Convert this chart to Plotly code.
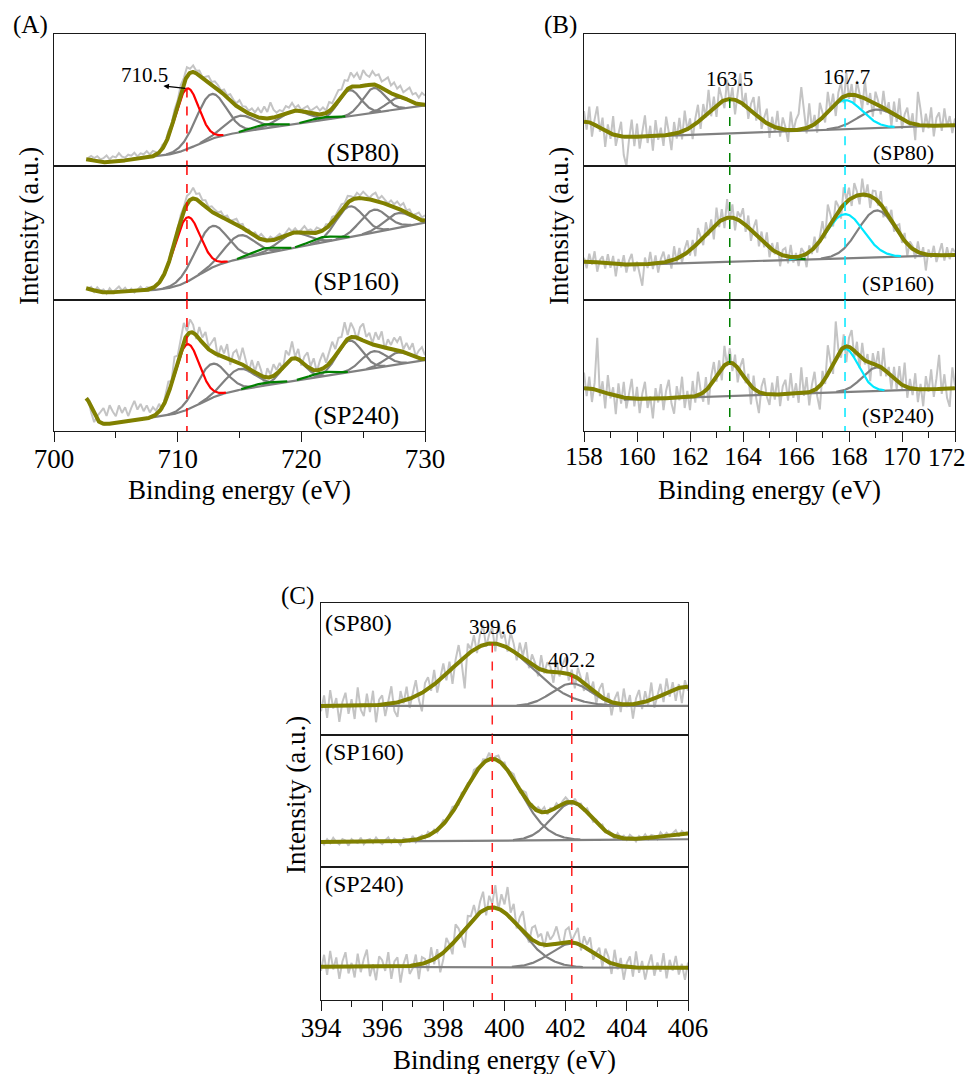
import numpy as np
import plotly.graph_objects as go

# ===================== DATA =====================
samples = ["SP80", "SP160", "SP240"]
sample_labels = ["(SP80)", "(SP160)", "(SP240)"]

# ---------- Panel A : Fe 2p ----------
A_range = [700, 730]
A_ticks = [700, 710, 720, 730]
A_energy_start, A_energy_step = 702.75, 0.25
A_fit_start, A_bg_start = 702.6, 704.0
A_centers = [710.75, 712.7, 715.0, 717.0, 719.35, 721.7, 723.9, 725.85, 727.8]
A_roles = ["main", "sat", "sat", "minor", "sat", "minor", "sat", "sat", "sat"]
A_amp_SP80 = [46, 34, 12.5, 3, 10, 2, 19.7, 18.7, 8.7]
A_sig_SP80 = [0.95, 1.2, 1.2, 1.0, 1.2, 1.0, 0.9, 0.9, 0.9]
A_amp_SP160 = [48, 31, 17.5, 4, 11, 4, 23, 17, 11]
A_sig_SP160 = [1.05, 1.3, 1.2, 1.0, 1.2, 1.0, 1.1, 1.1, 1.1]
A_amp_SP240 = [50, 26, 16, 2, 17, 3, 24, 13, 9]
A_sig_SP240 = [1.0, 1.2, 1.2, 1.0, 0.9, 1.0, 1.0, 1.0, 1.0]
# background: level@704, slope, step height, step centre, step width, extra slope after step
A_bg_SP80 = [2.5, 1.0, 11.0, 711.5, 0.9, 0.35]
A_bg_SP160 = [5.5, 0.4, 16.3, 711.5, 0.9, 1.38]
A_bg_SP240 = [5.0, 1.2, 12.6, 711.8, 0.9, 0.29]
# low-energy edge of the fit window: height, position, width
A_edge_SP80 = [4.0, 702.5, 0.7]
A_edge_SP160 = [4.0, 702.4, 0.7]
A_edge_SP240 = [22.0, 702.5, 0.55]
A_dev_SP80 = [1, 3, 2, 4, 2, 3, 5, 2, 4, 3, 6, 3, 2, 4, 3, 5, 2, 4, 3, 5, 2, 4,
              2, -1, 3, 1, 4, 2, 5, 3, 6, 4, 7, 3, 5, 2, 4, 1, 3, 5, 2, 4,
              3, 1, 4, 2, 5, 3, 2, 6, 3, 4, 2, 5, 3, 7, 4, 9, 5, 12, 6, 3,
              4, 2, 5, 3, 6, 2, 4, 1, 3, 5, 2, 4, 6, 3, 5, 2, 7, 4, 6, 8,
              5, 9, 6, 11, 7, 10, 5, 12, 8, 6, 10, 7, 9, 5, 8, 11, 6, 9, 5, 8, 4, 7, 10, 6, 8, 5, 9, 7]
A_dev_SP160 = [0, 2, -1, 3, 1, 2, -1, 3, 0, 2, 4, 1, 3, 0, 2, -1, 1, 3, 0, 2, 1, -1,
               1, 0, 2, -1, 1, 3, 0, 2, 4, 3, 6, 5, 8, 4, 6, 3, 5, 2, 4, 3,
               2, 4, 1, 3, 0, 2, 4, 1, 3, -1, 2, 0, 3, 1, 4, 2, 0, 3, 1, 2,
               3, 0, 2, 4, 1, 3, 0, 2, 5, 2, 3, 1, 4, 2, 0, 3, 1, 4, 2, 3,
               4, 2, 5, 3, 1, 4, 2, 5, 3, 1, 4, 6, 2, 5, 3, 1, 4, 2, 5, 3, 6, 2, 4, 1, 3, 5, 2, 4]
A_dev_SP240 = [2, -4, -6, 3, 8, 12, 6, 14, 9, 5, 13, 7, 11, 4, 10, 15, 8, 12, 6, 10, 4, 7,
               3, 6, -2, 5, 9, 2, 12, 4, 8, 14, 3, 10, 6, -3, 9, 4, 11, 2, 7, 12,
               -2, 8, 3, 11, -4, 6, 9, 2, 13, 5, -3, 8, 1, 10, 4, -5, 7, 2, 9, 3,
               6, -2, 10, 4, 13, 1, 8, -3, 6, 11, 2, 9, -1, 7, 12, 3, 8, 14, 5, 10,
               7, 15, 3, 11, 6, -2, 9, 13, 4, 8, 1, 10, 5, 12, -1, 7, 3, 9, 6, 11, 2, 8, 4, 10, 1, 6, 9, 3]
A_peak_label = "710.5"

# ---------- Panel B : S 2p ----------
B_range = [158, 172]
B_ticks = [158, 160, 162, 164, 166, 168, 170, 172]
B_energy_start, B_energy_step = 158.0, 0.1
B_fit_start, B_bg_start = 158.0, 159.5
B_centers = [163.5, 167.85, 169.05]
B_roles = ["sulfide", "sulfate", "sat"]
B_amp_SP80 = [26, 22, 14]
B_sig_SP80 = [0.85, 0.65, 0.7]
B_amp_SP160 = [33, 33, 35]
B_sig_SP160 = [0.95, 0.7, 0.7]
B_amp_SP240 = [25.5, 33, 18]
B_sig_SP240 = [0.5, 0.5, 0.55]
B_bg_SP80 = [20.6, 0.74]
B_bg_SP160 = [25.2, 0.6]
B_bg_SP240 = [22.8, 0.7]
B_edge_SP80 = [13.0, 158.0, 0.6]
B_edge_SP160 = [3.4, 158.0, 0.7]
B_edge_SP240 = [9.8, 158.0, 0.8]
B_dev_SP80 = [8, -6, 12, -10, 4, 15, -3, 9, -12, 6,
              -4, 14, -8, 2, 11, -14, -22, -2, 13, -7,
              10, -9, 3, 16, -5, 8, -11, 12, -3, 6,
              -8, 14, 2, -12, 9, -4, 11, -6, 15, -1,
              7, -10, 4, 13, -7, 10, -2, 17, -5, 8,
              -9, 12, 3, -6, 15, -3, 9, -11, 6, 22,
              -2, 10, -8, 5, 12, -4, 16, -7, 3, 11,
              -10, 7, -3, 13, -6, 9, 2, -9, 14, -1,
              8, 12, 32, 14, -4, 18, -2, 7, -8, 13,
              4, -6, 15, -1, 9, -10, 6, 12, -5, 17,
              -3, 8, -7, 11, 2, -9, 14, -4, 6, -11,
              9, 3, -6, 13, -2, 7, -10, 10, -4, 15,
              -7, 5, 11, -3, 8, -12, 25, 12, -5, 9,
              -2, 14, -8, 6, 10, -4, 13, -1, 7, -6,
              5]
B_dev_SP160 = [3, -5, 6, -2, 8, -7, 2, 5, -4, 7,
               -3, 6, -9, 4, -2, 7, -6, 3, 8, -5,
               2, -8, -16, 5, -3, 9, -4, 6, -7, 3,
               8, -2, 5, -6, 10, -3, 7, -5, 4, 9,
               -4, 6, -8, 11, 2, -6, 9, -3, 7, -10,
               12, -4, 8, -7, 14, -2, 10, -9, 6, 3,
               11, -5, 9, -8, 4, 12, -6, 7, -3, 10,
               -7, 5, -2, 8, -9, 4, 6, -5, 9, -4,
               3, -7, 6, 2, -10, 5, -3, 8, -6, 4,
               12, -4, 18, 7, -5, 11, 4, -8, 13, 2,
               9, -6, 10, 3, -7, 12, -2, 8, -9, 5,
               6, -3, 10, -7, 4, -2, 8, -5, 3, 7,
               -4, 6, -9, 4, 2, -6, 8, -3, 5, -12,
               4, -2, 7, -5, 3, 9, -4, 6, -3, 5,
               2]
B_dev_SP240 = [12, -6, 9, -10, 5, 40, -4, 8, -12, 14,
               -3, 6, -14, 10, -5, 12, -8, 3, 15, -6,
               9, -11, 4, 13, -7, 2, -15, 8, -3, 11,
               -9, 6, 14, -4, -12, 9, -2, 16, -8, 5,
               -10, 12, -5, 18, 3, -7, 10, -13, 6, 14,
               -4, 9, -9, 15, -2, 11, -6, 8, -11, 4,
               13, -3, 7, -14, 10, -6, -16, 5, 12, -2,
               -8, 9, -4, 14, -9, 6, 11, -5, 16, -3,
               8, -7, 20, -2, 12, -10, 5, 14, -6, -18,
               9, -4, 22, 6, -8, 28, 3, -6, 10, -12,
               7, 14, -5, 9, -9, 12, -3, 6, -14, 8,
               -2, 11, -7, 16, -4, 5, -10, 9, -6, 13,
               -3, 18, -8, 7, -5, 12, -10, 4, -13, 10,
               -2, 15, -6, 8, 26, -4, 11, -7, -14, 16,
               2]
B_peak_labels = ["163.5", "167.7"]
B_peak_label_x = [163.5, 167.9]
B_peak_label_y = [65.7, 67.2]

# ---------- Panel C : N 1s ----------
C_range = [394, 406]
C_ticks = [394, 396, 398, 400, 402, 404, 406]
C_energy_start, C_energy_step = 394.0, 0.1
C_fit_start, C_bg_start = 394.0, 394.0
C_centers = [399.6, 402.2]
C_roles = ["sat", "sat"]
C_amp_SP80 = [47.4, 17]
C_sig_SP80 = [1.3, 0.65]
C_amp_SP160 = [62, 28]
C_sig_SP160 = [0.9, 0.65]
C_amp_SP240 = [45, 18]
C_sig_SP240 = [0.95, 0.7]
C_bg_SP80 = [22.0, 0.0]
C_bg_SP160 = [19.0, 0.17]
C_bg_SP240 = [25.0, -0.07]
C_edge_SP80 = [14.6, 406.0, 0.8]
C_edge_SP160 = [4.4, 406.0, 0.8]
C_edge_SP240 = [0.0, 406.0, 0.8]
C_dev_SP80 = [-4, 8, -9, 12, -2, 6, -12, 3, 10, -6,
              5, -10, 14, -3, -8, 9, -5, 11, -13, 4,
              7, -9, 2, 13, -6, -11, 8, -2, 10, -7,
              3, 12, -4, -14, 6, 9, -3, 11, -8, 2,
              10, -5, 7, -12, 4, 13, -3, -24, 8, 2,
              11, -4, 9, 15, -2, 7, 12, -6, 16, 5,
              9, -3, 13, 6, -5, 10, 2, 14, -4, 8,
              3, -6, 11, -2, 7, 4, -8, 9, -3, 6,
              12, -5, 4, -9, 8, 2, -6, 10, -3, 7,
              -8, 5, 11, -4, 6, -10, 3, 9, -6, 12,
              -2, 7, -11, 4, 10, -5, 8, -3, 13, -7,
              2, 9, -6, 11, -4, 6, -9, 3, -12, 5,
              -3]
C_dev_SP160 = [1, -2, 2, -1, 3, 0, -2, 2, 1, -3,
               2, 0, -1, 3, -2, 1, 2, -1, 3, 0,
               -2, 1, 3, -1, 2, 0, -3, 2, 1, -1,
               3, -2, 1, 2, -1, 3, 0, 2, -2, 1,
               3, -1, 2, 4, 1, -2, 3, 0, 2, -1,
               4, 2, -1, 3, 1, 5, -2, 2, 4, 0,
               3, -1, 2, 4, 1, -2, 3, 5, 0, 2,
               -1, 3, 1, 4, -2, 2, 0, 3, -1, 2,
               4, 1, -2, 3, 0, 2, -1, 3, 1, -2,
               2, 0, 3, -1, 2, 1, -2, 3, 0, 2,
               -1, 3, 1, -2, 2, 0, 3, -1, 2, 1,
               -2, 3, 0, 2, -1, 1, 3, -2, 2, 0,
               1]
C_dev_SP240 = [-3, 9, -6, 12, -2, 7, -9, 4, 11, -5,
               3, -8, 10, -4, 6, 13, -7, 2, -10, 8,
               5, -3, 11, -9, 4, 7, -12, 2, 9, -6,
               -2, 8, -11, 5, 3, -7, 10, -4, 6, -13,
               -5, 9, 2, -8, 12, 6, -3, -14, 7, 4,
               10, -2, 8, 14, -5, 9, 3, 17, -1, 12,
               6, 21, 4, 13, -3, 8, 15, 2, -4, 9,
               12, 5, 8, -2, 10, 4, 7, 13, 3, -3,
               9, 11, 1, 6, 12, -4, 8, 3, 10, -5,
               2, 7, -6, 9, 4, -8, 11, -3, 6, -10,
               3, 8, -7, 12, -4, 5, -9, 2, 10, -6,
               4, -3, 11, -8, 6, -2, 9, -5, 3, -9,
               4]
C_peak_labels = ["399.6", "402.2"]

# ===================== STYLE =====================
OFF = 8                      # page margin of the browser around the figure
FW, FH = 976 - OFF, 1074 - OFF
FONT = "Liberation Serif, Times New Roman, serif"
COL_RAW = "#c4c4c4"
COL_FIT = "#808000"
COL_GRAY = "#808080"
ROLE_COLORS = {"main": "#ff0000", "sat": "#808080", "minor": "#008000",
               "sulfide": "#008000", "sulfate": "#00e8ff"}
AXCOL = "#1a1a1a"
TICK_SIZE = {"A": 27, "B": 25, "C": 27}

# pixel geometry (in the page) of the nine frames (left, right, [(top, bottom)...])
FRAMES = {
    "A": (54, 425, [(34, 166), (166, 300), (300, 431)]),
    "B": (584, 955, [(34, 166), (166, 300), (300, 431)]),
    "C": (321, 688, [(603, 735), (735, 867), (867, 1000)]),
}


def px_x(p):
    return (p - OFF) / FW


def px_y(p):
    return 1 - (p - OFF) / FH


def sigm(z):
    return 1.0 / (1.0 + np.exp(-z))


def gauss(x, c, a, s):
    return a * np.exp(-(x - c) ** 2 / (2 * s * s))


def bg_A(x, p):
    b0, s1, h, xs, w, s2 = p
    z = (x - xs) / w
    return b0 + s1 * (x - 704.0) + h * sigm(z) + s2 * w * np.log1p(np.exp(z))


def make_bg_lin(x0):
    def f(x, p):
        return p[0] + p[1] * (x - x0)
    return f


panels = {
    "A": dict(rng=A_range, ticks=A_ticks, minor=5, e0=A_energy_start, de=A_energy_step,
              fit0=A_fit_start, bg0=A_bg_start, centers=A_centers, roles=A_roles,
              amps=[A_amp_SP80, A_amp_SP160, A_amp_SP240], sigs=[A_sig_SP80, A_sig_SP160, A_sig_SP240],
              bgs=[A_bg_SP80, A_bg_SP160, A_bg_SP240], edges=[A_edge_SP80, A_edge_SP160, A_edge_SP240],
              devs=[A_dev_SP80, A_dev_SP160, A_dev_SP240], bgf=bg_A),
    "B": dict(rng=B_range, ticks=B_ticks, minor=1, e0=B_energy_start, de=B_energy_step,
              fit0=B_fit_start, bg0=B_bg_start, centers=B_centers, roles=B_roles,
              amps=[B_amp_SP80, B_amp_SP160, B_amp_SP240], sigs=[B_sig_SP80, B_sig_SP160, B_sig_SP240],
              bgs=[B_bg_SP80, B_bg_SP160, B_bg_SP240], edges=[B_edge_SP80, B_edge_SP160, B_edge_SP240],
              devs=[B_dev_SP80, B_dev_SP160, B_dev_SP240], bgf=make_bg_lin(158.0)),
    "C": dict(rng=C_range, ticks=C_ticks, minor=1, e0=C_energy_start, de=C_energy_step,
              fit0=C_fit_start, bg0=C_bg_start, centers=C_centers, roles=C_roles,
              amps=[C_amp_SP80, C_amp_SP160, C_amp_SP240], sigs=[C_sig_SP80, C_sig_SP160, C_sig_SP240],
              bgs=[C_bg_SP80, C_bg_SP160, C_bg_SP240], edges=[C_edge_SP80, C_edge_SP160, C_edge_SP240],
              devs=[C_dev_SP80, C_dev_SP160, C_dev_SP240], bgf=make_bg_lin(394.0)),
}

fig = go.Figure()
layout = dict(width=FW, height=FH, autosize=False,
              margin=dict(l=0, r=0, t=0, b=0, pad=0, autoexpand=False),
              paper_bgcolor="white", plot_bgcolor="white", showlegend=False,
              font=dict(family=FONT, color="black"))
annotations = []
axref = {}  # (panel,row) -> (xname, yname)


def model(P, r, x):
    bg = P["bgf"](x, P["bgs"][r])
    e = P["edges"][r]
    edge = gauss(x, e[1], e[0], e[2]) if e[0] > 0 else 0 * x
    comps = [gauss(x, c, a, s) for c, a, s in zip(P["centers"], P["amps"][r], P["sigs"][r])]
    fit = bg + edge + sum(comps)
    return bg, comps, fit


k = 0
for pk in ["A", "B", "C"]:
    P = panels[pk]
    left, right, rows = FRAMES[pk]
    for r in range(3):
        k += 1
        xn = "x" if k == 1 else f"x{k}"
        yn = "y" if k == 1 else f"y{k}"
        xl = "xaxis" if k == 1 else f"xaxis{k}"
        yl = "yaxis" if k == 1 else f"yaxis{k}"
        axref[(pk, r)] = (xn, yn)
        top, bot = rows[r]
        bottom_row = (r == 2)
        ttext = [str(t) for t in P["ticks"]]
        if pk == "B":
            ttext[-1] = ""  # last label is drawn as an annotation so it stays inside the page
        xa = dict(domain=[px_x(left), px_x(right)], range=P["rng"], anchor=yn, automargin=False,
                  showline=True, mirror=True, linecolor=AXCOL, linewidth=1.3,
                  showgrid=False, zeroline=False, fixedrange=True,
                  showticklabels=bottom_row, ticks="outside" if bottom_row else "",
                  tickmode="array", tickvals=P["ticks"], ticktext=ttext,
                  ticklen=10, tickwidth=1.3, tickcolor=AXCOL, ticklabelstandoff=-7,
                  tickfont=dict(family=FONT, size=TICK_SIZE[pk], color="black"))
        if bottom_row:
            xa["minor"] = dict(ticks="outside", ticklen=6, tickwidth=1.3, tickcolor=AXCOL,
                               dtick=P["minor"], tick0=P["rng"][0], showgrid=False)
        ya = dict(domain=[px_y(bot), px_y(top)], range=[0, 100], anchor=xn, automargin=False,
                  showline=True, mirror=True, linecolor=AXCOL, linewidth=1.3,
                  showgrid=False, zeroline=False, showticklabels=False, ticks="",
                  fixedrange=True)
        layout[xl] = xa
        layout[yl] = ya

        # raw spectrum = fit envelope + deviations
        dev = np.array(P["devs"][r], dtype=float)
        xr = P["e0"] + P["de"] * np.arange(len(dev))
        _, _, fit_r = model(P, r, xr)
        fig.add_trace(go.Scatter(x=xr, y=fit_r + dev, mode="lines", xaxis=xn, yaxis=yn,
                                 line=dict(color=COL_RAW, width=2), hoverinfo="skip"))

        xf = np.arange(P["fit0"], P["rng"][1] + 1e-9, 0.02)
        bg, comps, fit = model(P, r, xf)
        mbg = xf >= P["bg0"]
        fig.add_trace(go.Scatter(x=xf[mbg], y=bg[mbg], mode="lines", xaxis=xn, yaxis=yn,
                                 line=dict(color=COL_GRAY, width=2.2), hoverinfo="skip"))
        order = sorted(range(len(comps)), key=lambda i: P["roles"][i] != "sat")
        for i in order:
            g = comps[i]
            yy = np.where((g > 0.35) & mbg, bg + g, np.nan)
            fig.add_trace(go.Scatter(x=xf, y=yy, mode="lines", xaxis=xn, yaxis=yn,
                                     line=dict(color=ROLE_COLORS[P["roles"][i]], width=2.2),
                                     hoverinfo="skip"))
        fig.add_trace(go.Scatter(x=xf, y=fit, mode="lines", xaxis=xn, yaxis=yn,
                                 line=dict(color=COL_FIT, width=4), hoverinfo="skip"))

# ---------- dashed guide lines ----------
def vline(pk, r, xv, y0, y1, color):
    xn, yn = axref[(pk, r)]
    fig.add_trace(go.Scatter(x=[xv, xv], y=[y0, y1], mode="lines", xaxis=xn, yaxis=yn,
                             line=dict(color=color, width=1.5, dash="dash"), hoverinfo="skip"))


def value_at(pk, r, xv, what):
    P = panels[pk]
    xx = np.array([xv])
    bg, comps, fit = model(P, r, xx)
    if what == "fit":
        return float(fit[0])
    return float(bg[0] + comps[what][0])


# A : Fe(II) main peak
xa0 = A_centers[0]
vline("A", 0, xa0, value_at("A", 0, xa0, 0), 0, "#ff0000")
vline("A", 1, xa0, 100, 0, "#ff0000")
vline("A", 2, xa0, 100, 0, "#ff0000")
# B : sulfide and sulfate
for ci, col in [(0, "#008000"), (1, "#00e8ff")]:
    xv = B_centers[ci]
    vline("B", 0, xv, value_at("B", 0, xv, ci), 0, col)
    vline("B", 1, xv, 100, 0, col)
    vline("B", 2, xv, 100, 0, col)
# C : two N 1s peaks
for ci in range(2):
    xv = C_centers[ci]
    vline("C", 0, xv, value_at("C", 0, xv, "fit"), 0, "#ff2020")
    vline("C", 1, xv, 100, 0, "#ff2020")
    vline("C", 2, xv, 100, 0, "#ff2020")

# ---------- text ----------
def ann_paper(text, x, y, size, xanchor="center", yanchor="middle", angle=0):
    annotations.append(dict(text=text, x=px_x(x), y=px_y(y), xref="paper", yref="paper",
                            xanchor=xanchor, yanchor=yanchor, showarrow=False, textangle=angle,
                            font=dict(family=FONT, size=size, color="black")))


def ann_data(pk, r, text, xv, yv, size):
    xn, yn = axref[(pk, r)]
    annotations.append(dict(text=text, x=xv, y=yv, xref=xn, yref=yn, showarrow=False,
                            xanchor="center", yanchor="middle",
                            font=dict(family=FONT, size=size, color="black")))


# panel letters
ann_paper("(A)", 30, 25, 25)
ann_paper("(B)", 560, 25, 25)
ann_paper("(C)", 297, 596, 25)

# last tick label of panel B, kept inside the visible page
ann_paper(str(B_ticks[-1]), 968, 457, TICK_SIZE["B"], xanchor="right")

# axis titles
for cx, cy in [(239.5, 490), (769.5, 490), (504.5, 1060)]:
    ann_paper("Binding energy (eV)", cx, cy, 27)
for cx, cy in [(29, 226), (559, 226), (296, 795)]:
    ann_paper("Intensity (a.u.)", cx, cy, 27, angle=-90)

# sample labels
for r, yc in enumerate([152, 281, 415]):
    ann_paper(sample_labels[r], 401, yc, 26, xanchor="right")
for r, yc in enumerate([152, 283, 415]):
    ann_paper(sample_labels[r], 936, yc, 22, xanchor="right")
for r, yc in enumerate([623, 752, 884]):
    ann_paper(sample_labels[r], 323, yc, 24, xanchor="left")

# peak labels
ann_data("A", 0, A_peak_label, 707.28, 69, 21)
xn, yn = axref[("A", 0)]
annotations.append(dict(text="", x=708.85, y=60.6, xref=xn, yref=yn,
                        ax=xa0, ay=value_at("A", 0, xa0, 0), axref=xn, ayref=yn,
                        showarrow=True, arrowhead=2, arrowsize=1, arrowwidth=1.1,
                        arrowcolor="black", standoff=0, startstandoff=0))
for t, xv, yv in zip(B_peak_labels, B_peak_label_x, B_peak_label_y):
    ann_data("B", 0, t, xv, yv, 21)
ann_data("C", 0, C_peak_labels[0], C_centers[0], 82, 21)
ann_data("C", 0, C_peak_labels[1], C_centers[1], 56.8, 21)

layout["annotations"] = annotations
fig.update_layout(**layout)
fig.write_html("out.html")
